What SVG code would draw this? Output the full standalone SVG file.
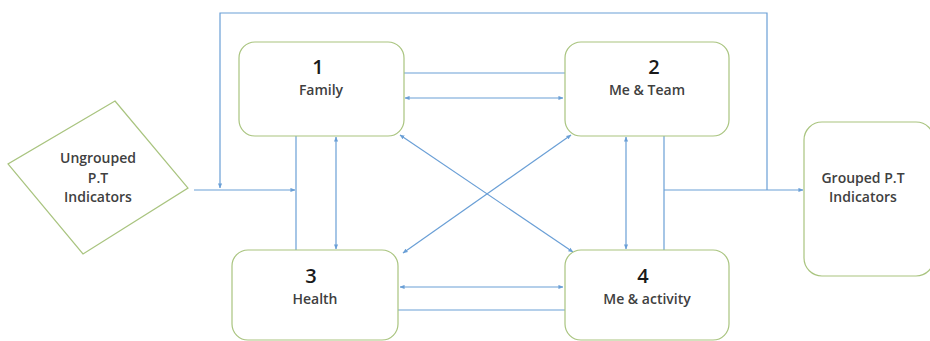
<svg xmlns="http://www.w3.org/2000/svg" width="930" height="341" viewBox="0 0 930 341">
<defs>
<style>
.box{fill:#ffffff;stroke:#a9c47f;stroke-width:1.2}
.ln{fill:none;stroke:#6a9fd6;stroke-width:1.2}
.num{font-family:"Open Sans","Liberation Sans",sans-serif;font-size:20px;font-weight:600;fill:#1a1a1a;text-anchor:middle}
.lbl{font-family:"Open Sans","Liberation Sans",sans-serif;font-size:14px;font-weight:600;fill:#404040;text-anchor:middle}
</style>
<marker id="ah" viewBox="0 0 6 6" refX="5.5" refY="3" markerWidth="5" markerHeight="5" orient="auto-start-reverse" markerUnits="userSpaceOnUse">
<path d="M0,0.5 L6,3 L0,5.5 Z" fill="#6a9fd6"/>
</marker>
</defs>
<rect width="930" height="341" fill="#ffffff"/>
<g id="connectors">
<polyline class="ln" points="767,190 767,13 220,13 220,188" marker-end="url(#ah)"/>
<line class="ln" x1="194" y1="190" x2="295" y2="190" marker-end="url(#ah)"/>
<line class="ln" x1="296" y1="136" x2="296" y2="250"/>
<line class="ln" x1="336" y1="137" x2="336" y2="249" marker-start="url(#ah)" marker-end="url(#ah)"/>
<line class="ln" x1="404" y1="73" x2="565" y2="73"/>
<line class="ln" x1="405" y1="98" x2="563" y2="98" marker-start="url(#ah)" marker-end="url(#ah)"/>
<line class="ln" x1="626" y1="137" x2="626" y2="249" marker-start="url(#ah)" marker-end="url(#ah)"/>
<line class="ln" x1="664" y1="136" x2="664" y2="250"/>
<line class="ln" x1="664" y1="190" x2="803" y2="190" marker-end="url(#ah)"/>
<line class="ln" x1="400" y1="135" x2="573" y2="252" marker-start="url(#ah)" marker-end="url(#ah)"/>
<line class="ln" x1="571" y1="135" x2="403" y2="253" marker-start="url(#ah)" marker-end="url(#ah)"/>
<line class="ln" x1="400" y1="287" x2="563" y2="287" marker-start="url(#ah)" marker-end="url(#ah)"/>
<line class="ln" x1="398" y1="310" x2="565" y2="310"/>
</g>
<g id="ungrouped">
<polygon class="box" points="115,101 188,188 83,254 8,164"/>
<text class="lbl" x="98" y="163">Ungrouped</text>
<text class="lbl" x="98" y="183">P.T</text>
<text class="lbl" x="98" y="202">Indicators</text>
</g>
<g id="family">
<rect class="box" x="239" y="42" width="165" height="94" rx="16"/>
<text class="num" x="318" y="74">1</text>
<text class="lbl" x="321" y="95">Family</text>
</g>
<g id="team">
<rect class="box" x="565" y="42" width="164" height="94" rx="16"/>
<text class="num" x="654" y="74">2</text>
<text class="lbl" x="647" y="95">Me &amp; Team</text>
</g>
<g id="health">
<rect class="box" x="232" y="250" width="166" height="90" rx="16"/>
<text class="num" x="311" y="283">3</text>
<text class="lbl" x="315" y="304">Health</text>
</g>
<g id="activity">
<rect class="box" x="565" y="250" width="164" height="90" rx="16"/>
<text class="num" x="643" y="283">4</text>
<text class="lbl" x="647" y="304">Me &amp; activity</text>
</g>
<g id="grouped">
<rect class="box" x="804" y="122" width="130" height="154" rx="18"/>
<text class="lbl" x="863" y="183">Grouped P.T</text>
<text class="lbl" x="863" y="202">Indicators</text>
</g>
</svg>
